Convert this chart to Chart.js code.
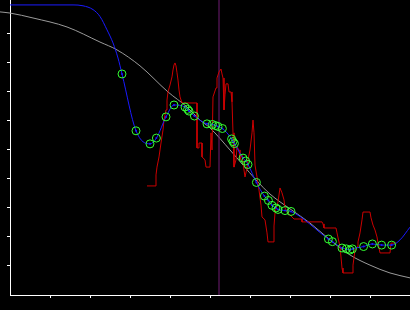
<!DOCTYPE html>
<html>
<head>
<meta charset="utf-8">
<script src="https://cdn.jsdelivr.net/npm/chart.js@4.4.1/dist/chart.umd.min.js"></script>
<style>
  html, body { margin: 0; padding: 0; background: #000; }
  #wrap { width: 410px; height: 310px; }
</style>
</head>
<body>
<div id="wrap"><canvas id="myChart" width="410" height="310"></canvas></div>
<script>
// axis ticks (no labels in the picture)
const xTicks = [1, 2, 3, 4, 5, 6, 7, 8, 9]
const yTicks = [1, 2, 3, 4, 5, 6, 7, 8, 9]
const xMin = 0, xMax = 10
const yMin = 0, yMax = 10.17

// smooth reference curve (grey)
const refX = [-0.25, 0, 0.575, 1.425, 2.25, 2.675, 3.25, 3.95, 4.425, 4.75, 5.0, 5.5, 6.15, 6.5, 7.0, 7.5, 8.0, 8.5, 9.0, 9.5, 10.0]
const refY = [9.76, 9.72, 9.55, 9.24, 8.72, 8.45, 7.90, 7.00, 6.48, 6.03, 5.76, 5.0, 3.97, 3.48, 2.97, 2.48, 1.90, 1.38, 1.03, 0.76, 0.59]

// fitted points (green circles)
const fitX = [2.80, 3.15, 3.50, 3.66, 3.90, 4.10, 4.375, 4.44, 4.475, 4.61, 4.925, 5.06, 5.14, 5.20, 5.31, 5.54, 5.575, 5.61, 5.825, 5.89, 5.95, 6.16, 6.36, 6.46, 6.55, 6.65, 6.70, 6.875, 7.025, 7.96, 8.06, 8.30, 8.41, 8.50, 8.56, 8.84, 9.06, 9.29, 9.54]
const fitY = [7.62, 5.66, 5.21, 5.41, 6.14, 6.55, 6.48, 6.40, 6.34, 6.17, 5.90, 5.88, 5.84, 5.81, 5.74, 5.38, 5.29, 5.22, 4.72, 4.62, 4.50, 3.88, 3.41, 3.26, 3.09, 3.00, 2.95, 2.91, 2.88, 1.93, 1.84, 1.62, 1.59, 1.55, 1.59, 1.67, 1.76, 1.72, 1.72]

// blue fit curve, before the first and after the last point
const headX = [0, 0.875, 1.575, 1.825, 2.075, 2.25, 2.425, 2.575, 2.70]
const headY = [10.0, 10.0, 10.0, 9.97, 9.84, 9.60, 9.14, 8.69, 8.17]
const tailX = [9.75, 10.0]
const tailY = [1.90, 2.34]

// raw signal (red)
const sigX = [3.425, 3.65, 3.65, 3.675, 3.725, 3.775, 3.825, 3.85, 3.90, 3.925,
  3.95, 4.00, 4.05, 4.075, 4.10, 4.125, 4.15, 4.175, 4.20, 4.225,
  4.25, 4.30, 4.675, 4.675, 4.725, 4.725, 4.80, 4.80, 4.875, 4.90,
  5.00, 5.025, 5.05, 5.075, 5.15, 5.175, 5.225, 5.275, 5.30, 5.325,
  5.35, 5.375, 5.40, 5.45, 5.475, 5.525, 5.55, 5.575, 5.60, 5.65,
  5.675, 5.725, 5.75, 5.80, 5.85, 5.875, 5.925, 5.95, 6.00, 6.05,
  6.075, 6.10, 6.125, 6.175, 6.225, 6.275, 6.30, 6.375, 6.425, 6.45,
  6.575, 6.60, 6.625, 6.70, 6.75, 6.80, 6.85, 6.875, 6.95, 7.05,
  7.10, 7.30, 7.30, 7.80, 7.825, 7.85, 8.15, 8.175, 8.25, 8.275,
  8.30, 8.325, 8.575, 8.575, 8.625, 8.675, 8.70, 8.75, 8.80, 8.825,
  9.00, 9.025, 9.075, 9.125, 9.175, 9.20, 9.25, 9.50, 9.525, 9.65]
const sigY = [3.76, 3.76, 4.14, 4.41, 4.76, 5.24, 5.69, 6.03, 6.38, 6.72,
  7.00, 7.24, 7.52, 7.76, 7.93, 8.00, 7.90, 7.66, 7.41, 7.07,
  6.83, 6.62, 6.62, 5.07, 5.07, 5.24, 5.24, 4.76, 4.66, 4.41,
  4.41, 5.59, 5.00, 6.83, 7.14, 7.48, 7.69, 7.79, 7.62, 7.48,
  6.38, 6.90, 7.28, 7.28, 7.00, 7.00, 6.66, 5.59, 4.41, 4.66,
  5.10, 5.00, 4.66, 4.83, 4.31, 4.07, 4.38, 4.66, 5.00, 5.59,
  6.03, 5.59, 4.48, 4.07, 3.62, 3.10, 2.69, 2.59, 2.14, 1.83,
  1.83, 2.38, 2.83, 3.21, 3.69, 3.52, 3.28, 3.00, 2.83, 2.69,
  2.62, 2.62, 2.52, 2.52, 2.45, 2.31, 2.31, 2.14, 1.66, 1.31,
  0.93, 0.76, 0.76, 1.03, 1.55, 1.66, 1.83, 2.14, 2.59, 2.86,
  2.86, 2.66, 2.41, 2.24, 2.00, 1.79, 1.45, 1.45, 1.79, 1.79]

// vertical marker
const markX = 5.225

const pts = (xs, ys) => xs.map((x, i) => ({ x: x, y: ys[i] }))

const curveX = [...headX, ...fitX, ...tailX]
const curveY = [...headY, ...fitY, ...tailY]

let ctx = document.getElementById('myChart')
let myChart = new Chart(ctx, {
    type: 'scatter',
    data: {
        datasets: [
            {
                // circles
                data: pts(fitX, fitY),
                showLine: false,
                pointRadius: 4,
                pointBorderWidth: 1,
                pointBorderColor: '#33ff33',
                pointBackgroundColor: 'rgba(0,0,0,0)',
                order: 0,
            },
            {
                // dots in the circles
                data: pts(fitX, fitY),
                showLine: false,
                pointRadius: 1,
                pointBorderWidth: 0,
                pointBackgroundColor: '#1a1aff',
                order: 1,
            },
            {
                data: pts(curveX, curveY),
                showLine: true,
                borderColor: '#1a1aff',
                borderWidth: 1,
                pointRadius: 0,
                cubicInterpolationMode: 'monotone',
                order: 2,
            },
            {
                data: pts(sigX, sigY),
                showLine: true,
                borderColor: '#cc0000',
                borderWidth: 1,
                pointRadius: 0,
                tension: 0,
                order: 3,
            },
            {
                data: [{ x: markX, y: yMin }, { x: markX, y: yMax }],
                showLine: true,
                borderColor: '#701c74',
                borderWidth: 1,
                pointRadius: 0,
                order: 4,
            },
            {
                data: pts(refX, refY),
                showLine: true,
                borderColor: '#9a9a9a',
                borderWidth: 1,
                pointRadius: 0,
                cubicInterpolationMode: 'monotone',
                clip: false,
                order: 5,
            },
        ]
    },
    options: {
        responsive: false,
        animation: false,
        events: [],
        layout: {
            autoPadding: false,
            padding: { left: 7, right: 0, top: 0, bottom: 12 },
        },
        plugins: {
            legend: { display: false },
            tooltip: { enabled: false },
        },
        scales: {
            x: {
                type: 'linear',
                position: 'bottom',
                min: xMin,
                max: xMax,
                afterBuildTicks: (s) => { s.ticks = xTicks.map(v => ({ value: v })) },
                ticks: { display: false },
                grid: {
                    drawOnChartArea: false,
                    drawTicks: true,
                    tickLength: 3,
                    color: '#ffffff',
                },
                border: { color: '#ffffff', width: 1 },
            },
            y: {
                type: 'linear',
                position: 'left',
                min: yMin,
                max: yMax,
                afterBuildTicks: (s) => { s.ticks = yTicks.map(v => ({ value: v })) },
                ticks: { display: false },
                grid: {
                    drawOnChartArea: false,
                    drawTicks: true,
                    tickLength: 3,
                    color: '#ffffff',
                },
                border: { color: '#ffffff', width: 1 },
            },
        }
    },
});
</script>
</body>
</html>
